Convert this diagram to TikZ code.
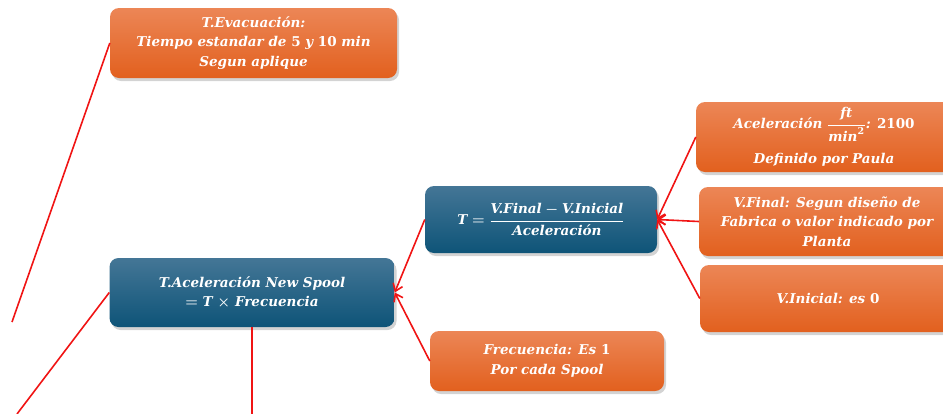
\documentclass[tikz,border=0pt]{standalone}
\usepackage{amsmath}
\usepackage{fontspec}
\setmainfont{DejaVu Serif}
\usetikzlibrary{shadows,arrows.meta}
\definecolor{orTop}{RGB}{236,134,86}
\definecolor{orBot}{RGB}{226,96,30}
\definecolor{blTop}{RGB}{68,118,150}
\definecolor{blBot}{RGB}{14,84,120}
\definecolor{lnRed}{RGB}{240,20,20}
\tikzset{
  box/.style={rectangle, rounded corners=9pt, text=white, align=center, inner sep=0pt,
    font=\fontsize{13.5}{19.5}\selectfont\bfseries\itshape\boldmath,
    drop shadow={shadow xshift=2pt,shadow yshift=-3pt,opacity=0.35}},
  obox/.style={box, top color=orTop, bottom color=orBot},
  bbox/.style={box, top color=blTop, bottom color=blBot},
  link/.style={draw=lnRed, line width=1.6pt},
  arr/.style={link, -{Straight Barb[length=7pt,width=10pt]}},
}
\begin{document}
\begin{tikzpicture}[x=1pt,y=-1pt]
\useasboundingbox (0,0) rectangle (943,413);
\clip (0,0) rectangle (943,413);
\node[obox, minimum width=287pt, minimum height=70pt] (evac) at (253.5,43)
  {T.Evacuación:\\Tiempo estandar de {\upshape 5} y {\upshape 10} min\\Segun aplique};
\node[bbox, minimum width=285pt, minimum height=69pt] (main) at (252,292.5)
  {T.Aceleración New Spool\\$=$ T $\times$ Frecuencia};
\node[bbox, minimum width=232pt, minimum height=67pt] (tf) at (541,219.5)
  {T $=\dfrac{\text{V.Final} - \text{V.Inicial}}{\text{Aceleración}}$};
\node[obox, minimum width=256pt, minimum height=70pt] (acel) at (824,137)
  {Aceleración $\dfrac{\text{ft}}{\text{min}^{\text{\upshape 2}}}$: {\upshape 2100}\\[11pt]Definido por Paula};
\node[obox, minimum width=256pt, minimum height=69pt] (vfin) at (827,221.5)
  {V.Final: Segun diseño de\\Fabrica o valor indicado por\\Planta};
\node[obox, minimum width=256pt, minimum height=67pt] (vini) at (828,298.5)
  {V.Inicial: es {\upshape 0}};
\node[obox, minimum width=234pt, minimum height=60pt] (frec) at (547,361)
  {Frecuencia: Es {\upshape 1}\\Por cada Spool};
\coordinate (e1) at (12,322);
\coordinate (e2) at (17,414);
\coordinate (e3) at (252,414);
\draw[link] (evac.west) -- (e1);
\draw[link] (main.west) -- (e2);
\draw[link] (main.south) -- (e3);
\draw[arr] (tf.west) -- (main.east);
\draw[arr] (frec.west) -- (main.east);
\draw[arr] (acel.west) -- (tf.east);
\draw[arr] (vfin.west) -- (tf.east);
\draw[arr] (vini.west) -- (tf.east);
\end{tikzpicture}
\end{document}
